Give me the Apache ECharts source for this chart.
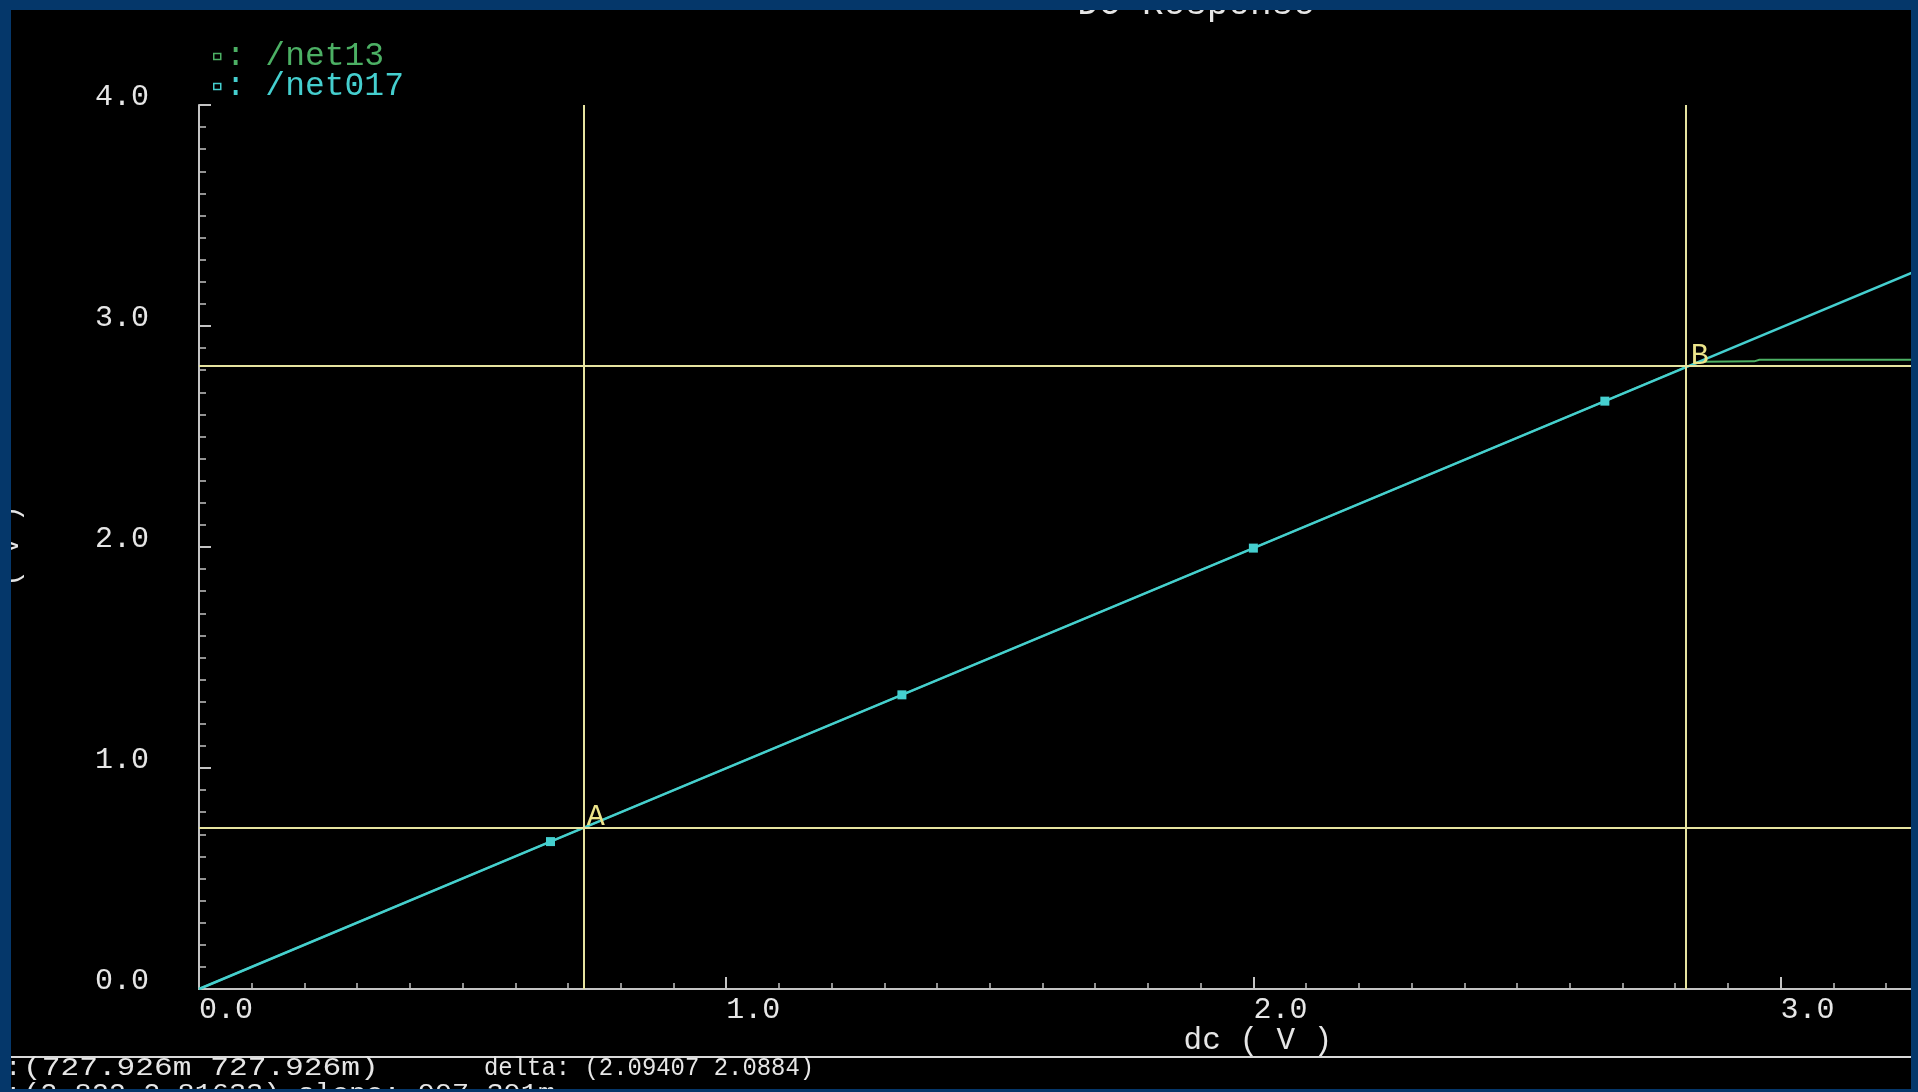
<!DOCTYPE html>
<html>
<head>
<meta charset="utf-8">
<title>DC Response</title>
<script src="https://cdn.jsdelivr.net/npm/echarts@6/dist/echarts.min.js"></script>
<style>
  html, body { margin: 0; padding: 0; background: #05376a; }
  #chart { width: 1918px; height: 1092px; }
</style>
</head>
<body>
<div id="chart"></div>
<script>
// DC sweep of the source (V) and the two probed node voltages (V)
const dcSweep   = [0, 0.6667, 1.3333, 2.0, 2.6667, 3.3333];
const net017    = [0, 0.667, 1.331, 1.995, 2.660, 3.325];
const net13Sweep = [0, 0.6667, 1.3333, 2.0, 2.6667, 2.822, 2.85, 2.95, 2.96, 3.3333];
const net13      = [0, 0.667, 1.331, 1.995, 2.660, 2.816, 2.838, 2.840, 2.847, 2.848];

// tick values that carry a label
const xTickValues = [0, 1, 2, 3];
const yTickValues = [0, 1, 2, 3, 4];

// cursor positions (x, y)
const cursorA = [0.727926, 0.727926];
const cursorB = [2.822, 2.81633];

// cursor readout lines
const readoutA = '(727.926m 727.926m)';
const readoutDelta = 'delta: (2.09407 2.0884)';
const readoutB = '(2.822 2.81633) slope: 997.391m';

const FONT = 'Liberation Mono';
const TEXT = '#e6e6e6';
const AXIS = '#c4c4c4';
const GREEN = '#4cb064';
const CYAN = '#45cfcf';
const CURSOR = '#e6e3a0';
const FRAME = '#05376a';

const pairs = (xs, ys) => xs.map((x, i) => [x, ys[i]]);
const tickLabel = list => v => (list.some(t => Math.abs(t - v) < 1e-9) ? v.toFixed(1) : '');
const font = size => size + 'px "' + FONT + '"';

const chart = echarts.init(document.getElementById('chart'));

chart.setOption({
  backgroundColor: '#000000',
  animation: false,
  grid: { left: 199, right: 0, top: 105, bottom: 103, containLabel: false },
  legend: {
    orient: 'vertical',
    left: 208,
    top: 35,
    itemWidth: 7,
    itemHeight: 6,
    itemGap: -3,
    icon: 'rect',
    selectedMode: false,
    textStyle: { fontFamily: FONT, fontSize: 33, lineHeight: 30 },
    formatter: name => ': ' + name,
    data: [
      { name: '/net13', itemStyle: { color: 'transparent', borderColor: GREEN, borderWidth: 1.5 }, textStyle: { color: GREEN } },
      { name: '/net017', itemStyle: { color: 'transparent', borderColor: CYAN, borderWidth: 1.5 }, textStyle: { color: CYAN } }
    ]
  },
  xAxis: {
    type: 'value',
    min: 0,
    max: 3.255,
    interval: 1,
    axisLine: { onZero: false, lineStyle: { color: AXIS, width: 2 } },
    axisTick: { inside: true, length: 12, lineStyle: { color: AXIS, width: 2 } },
    minorTick: { show: true, splitNumber: 10, length: 6, lineStyle: { color: AXIS, width: 1.5 } },
    splitLine: { show: false },
    axisLabel: {
      color: TEXT, fontFamily: FONT, fontSize: 30, align: 'left', margin: 6,
      formatter: tickLabel(xTickValues)
    }
  },
  yAxis: {
    type: 'value',
    min: 0,
    max: 4,
    interval: 1,
    axisLine: { onZero: false, lineStyle: { color: AXIS, width: 2 } },
    axisTick: { inside: true, length: 12, lineStyle: { color: AXIS, width: 2 } },
    minorTick: { show: true, splitNumber: 10, length: 7, lineStyle: { color: AXIS, width: 1.5 } },
    splitLine: { show: false },
    axisLabel: {
      color: TEXT, fontFamily: FONT, fontSize: 30, margin: 50,
      verticalAlign: 'bottom', lineHeight: 16,
      formatter: tickLabel(yTickValues)
    }
  },
  series: [
    {
      name: '/net13',
      type: 'line',
      z: 2,
      data: pairs(net13Sweep, net13),
      showSymbol: false,
      color: GREEN,
      lineStyle: { color: GREEN, width: 2 },
      markLine: {
        silent: true,
        symbol: ['none', 'none'],
        label: { show: false },
        lineStyle: { color: CURSOR, width: 2, type: 'solid' },
        data: [
          { xAxis: cursorA[0] },
          { xAxis: cursorB[0] },
          { yAxis: cursorA[1] },
          { yAxis: cursorB[1] }
        ]
      },
      markPoint: {
        silent: true,
        symbol: 'rect',
        symbolSize: 1,
        itemStyle: { color: 'transparent' },
        label: {
          show: true, formatter: '{b}', position: 'inside', offset: [13, -11],
          color: '#ece48a', fontFamily: FONT, fontSize: 30
        },
        data: [
          { name: 'A', coord: cursorA },
          { name: 'B', coord: cursorB }
        ]
      }
    },
    {
      name: '/net017',
      type: 'line',
      z: 3,
      data: pairs(dcSweep, net017),
      symbol: 'rect',
      symbolSize: (v, p) => (p.dataIndex === 0 ? 0 : 9),
      showAllSymbol: true,
      color: CYAN,
      itemStyle: { color: CYAN },
      lineStyle: { color: CYAN, width: 2.5 }
    }
  ],
  graphic: [
    // plot title, partly under the window frame
    { type: 'text', z: 50, x: 1196, y: 22,
      style: { text: 'DC Response', fill: TEXT, font: font(36), align: 'center', verticalAlign: 'bottom' } },
    // y axis unit, rotated
    { type: 'text', z: 50, x: 11, y: 546, rotation: Math.PI / 2,
      style: { text: '( V )', fill: TEXT, font: font(27), align: 'center', verticalAlign: 'middle' } },
    // x axis title
    { type: 'text', z: 50, x: 1258, y: 1041,
      style: { text: 'dc ( V )', fill: TEXT, font: font(31), align: 'center', verticalAlign: 'middle' } },
    // readout separator
    { type: 'line', z: 50, shape: { x1: 0, y1: 1057, x2: 1918, y2: 1057 },
      style: { stroke: '#d8d8d8', lineWidth: 2 } },
    // cursor readouts
    { type: 'text', z: 50, x: -10, y: 1068,
      style: { text: 'A:', fill: TEXT, font: font(26), align: 'left', verticalAlign: 'middle' } },
    { type: 'text', z: 50, x: 23, y: 1068, scaleX: 1.2,
      style: { text: readoutA, fill: TEXT, font: font(26), align: 'left', verticalAlign: 'middle' } },
    { type: 'text', z: 50, x: 484, y: 1068, scaleX: 0.92,
      style: { text: readoutDelta, fill: TEXT, font: font(26), align: 'left', verticalAlign: 'middle' } },
    { type: 'text', z: 50, x: -10, y: 1094,
      style: { text: 'B:', fill: TEXT, font: font(26), align: 'left', verticalAlign: 'middle' } },
    { type: 'text', z: 50, x: 23, y: 1094, scaleX: 1.1,
      style: { text: readoutB, fill: TEXT, font: font(26), align: 'left', verticalAlign: 'middle' } },
    // window frame
    { type: 'rect', z: 100, shape: { x: 0, y: 0, width: 1918, height: 10 }, style: { fill: FRAME } },
    { type: 'rect', z: 100, shape: { x: 0, y: 0, width: 11, height: 1092 }, style: { fill: FRAME } },
    { type: 'rect', z: 100, shape: { x: 1911, y: 0, width: 7, height: 1092 }, style: { fill: FRAME } },
    { type: 'rect', z: 100, shape: { x: 0, y: 1089, width: 1918, height: 3 }, style: { fill: FRAME } }
  ]
});
</script>
</body>
</html>
